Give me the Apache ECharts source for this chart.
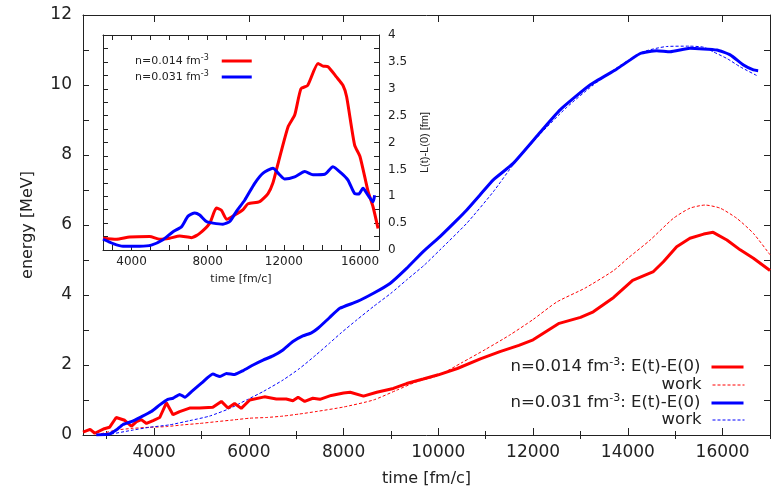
<!DOCTYPE html>
<html><head><meta charset="utf-8">
<script src="https://cdn.jsdelivr.net/npm/echarts@6/dist/echarts.min.js"></script>
<style>html,body{margin:0;padding:0;background:#fff}#c{width:775px;height:489px}</style>
</head><body><div id="c"></div>
<script>
// ---------- main panel: energy vs time ----------
const redEnergyTime = [2500,2650,2750,2950,3060,3200,3380,3520,3630,3730,3840,3980,4120,4260,4400,4540,4750,4960,5240,5420,5560,5700,5840,6020,6330,6580,6790,6930,7040,7180,7350,7500,7740,8000,8140,8420,8700,9050,9330,9680,10000,10400,10900,11300,11700,12000,12300,12550,13000,13270,13700,14100,14540,14750,15030,15310,15600,15800,16090,16370,16650,17000];
const redEnergy     = [0.08,0.16,0.05,0.18,0.22,0.50,0.42,0.25,0.38,0.44,0.33,0.41,0.50,0.92,0.58,0.67,0.77,0.77,0.79,0.96,0.77,0.90,0.76,1.00,1.09,1.03,1.03,0.98,1.08,0.96,1.05,1.02,1.13,1.20,1.22,1.11,1.22,1.33,1.47,1.60,1.72,1.90,2.18,2.38,2.56,2.72,2.98,3.19,3.36,3.52,3.93,4.42,4.67,4.95,5.38,5.62,5.74,5.79,5.57,5.29,5.05,4.70];

const redWorkTime = [2780,3200,3550,3900,4260,4610,4960,5310,5670,6020,6370,6720,7070,7420,8000,8630,9120,9540,10000,10500,11000,11500,12000,12500,13100,13700,14000,14470,14960,15310,15630,15950,16300,16650,17000];
const redWork     = [0.00,0.14,0.19,0.22,0.24,0.29,0.33,0.38,0.43,0.48,0.50,0.54,0.60,0.67,0.80,1.00,1.28,1.52,1.70,2.07,2.45,2.85,3.30,3.80,4.20,4.70,5.05,5.57,6.19,6.48,6.57,6.48,6.19,5.76,5.15];

const blueEnergyTime = [2780,3060,3200,3345,3520,3730,3940,4120,4290,4400,4540,4650,4790,5000,5240,5390,5530,5700,5880,6090,6300,6510,6720,6930,7140,7320,7460,7700,7920,8280,8630,8980,9330,9680,10035,10390,10600,10880,11160,11580,12150,12570,13200,13760,14260,14610,14890,15310,15880,16160,16440,16650,16750];
const blueEnergy     = [0.00,0.03,0.14,0.30,0.38,0.52,0.67,0.86,1.02,1.05,1.16,1.08,1.24,1.48,1.74,1.67,1.76,1.73,1.84,2.00,2.14,2.26,2.43,2.67,2.83,2.92,3.05,3.35,3.62,3.81,4.05,4.33,4.76,5.24,5.67,6.14,6.43,6.86,7.29,7.76,8.65,9.29,10.00,10.45,10.90,10.98,10.95,11.05,11.00,10.86,10.57,10.43,10.41];

const blueWorkTime = [2990,3550,3900,4330,4750,5170,5600,5950,6300,6720,7070,7420,7700,7950,8280,8630,9000,9330,9700,10035,10600,11160,11580,12150,12700,13270,13830,14330,14820,15300,15600,15800,16100,16370,16750];
const blueWork     = [0.00,0.14,0.22,0.29,0.41,0.54,0.76,1.00,1.24,1.57,1.90,2.29,2.62,2.92,3.29,3.67,4.05,4.43,4.85,5.29,6.05,6.95,7.72,8.60,9.35,10.00,10.55,10.95,11.10,11.11,11.08,10.95,10.75,10.52,10.25];

// ---------- inset: L(t)-L(0) vs time ----------
const insetRedTime = [2500,3200,3900,4950,5480,6000,6530,7140,7580,8110,8460,8720,9000,9420,9860,10120,10730,11170,11430,11690,12220,12570,12900,13250,13800,14060,14320,14760,15110,15300,15720,16000,16420,16690,16950];
const insetRed     = [0.22,0.20,0.24,0.25,0.20,0.22,0.26,0.23,0.31,0.50,0.78,0.74,0.57,0.65,0.75,0.86,0.90,1.05,1.25,1.60,2.29,2.51,3.00,3.06,3.47,3.42,3.41,3.22,3.06,2.85,1.95,1.74,1.10,0.80,0.40];

const insetBlueTime = [2500,3030,3550,4430,5040,5650,6180,6620,6970,7320,7580,7930,8280,8800,9160,9510,9950,10470,10910,11430,11780,12050,12570,13100,13530,14150,14580,15020,15370,15720,15930,16160,16420,16690,16770];
const insetBlue     = [0.20,0.12,0.07,0.07,0.09,0.19,0.34,0.43,0.63,0.69,0.65,0.53,0.50,0.48,0.53,0.72,0.93,1.24,1.43,1.52,1.40,1.32,1.36,1.46,1.40,1.41,1.55,1.43,1.30,1.05,1.04,1.15,1.02,0.90,1.02];

// ---------- ticks / labels ----------
const mainXLabels = [4000,6000,8000,10000,12000,14000,16000];
const mainXMinor  = [3000,5000,7000,9000,11000,13000,15000,17000];
const insetXLabels = [4000,8000,12000,16000];
const insetXTicks  = [3000,4000,5000,6000,7000,8000,9000,10000,11000,12000,13000,14000,15000,16000,17000];

const zip = (a, b) => a.map((t, i) => [t, b[i]]);

const FONT = 'DejaVu Sans';
const AX = '#222';
const TXT = '#222';
const RED = '#ff0000', BLUE = '#0000ff';

function xAxis(opts) {
  return Object.assign({
    type: 'value', min: 2500, max: 17000,
    splitLine: { show: false },
    axisLine: { show: true, onZero: false, lineStyle: { color: AX, width: 1 } },
    axisLabel: { show: false },
  }, opts);
}
function yAxis(opts) {
  return Object.assign({
    type: 'value',
    splitLine: { show: false },
    axisLine: { show: true, onZero: false, lineStyle: { color: AX, width: 1 } },
    axisLabel: { show: false },
  }, opts);
}

const names = {
  E014: 'n=0.014 fm{sup|-3}: E(t)-E(0)',
  W014: 'work',
  E031: 'n=0.031 fm{sup|-3}: E(t)-E(0)',
  W031: 'work',
  L014: 'n=0.014 fm{sup|-3}',
  L031: 'n=0.031 fm{sup|-3}'
};

function mainLegend(name, top, width) {
  return {
    data: [name], right: 30, top: top, padding: 0,
    align: 'right', itemWidth: 32, itemHeight: 14, selectedMode: false,
    itemStyle: { opacity: 0 },
    lineStyle: { width: width },
    formatter: n => names[n],
    textStyle: {
      fontFamily: FONT, fontSize: 16.5, color: TXT, lineHeight: 20, padding: [0, 6, 0, 0],
      rich: { sup: { fontFamily: FONT, fontSize: 11, color: TXT, verticalAlign: 'top', lineHeight: 11 } }
    }
  };
}

const chart = echarts.init(document.getElementById('c'), null, { renderer: 'canvas' });
chart.setOption({
  backgroundColor: '#fff',
  animation: false,
  grid: [
    { left: 83, top: 15, width: 687, height: 420, outerBoundsMode: 'none', containLabel: false },
    { left: 103, top: 35, width: 276, height: 215, outerBoundsMode: 'none', containLabel: false }
  ],
  xAxis: [
    xAxis({ gridIndex: 0, position: 'bottom',
      axisTick: { show: true, inside: true, length: 7, customValues: mainXLabels, lineStyle: { color: AX } },
      axisLabel: { show: true, customValues: mainXLabels, fontFamily: FONT, fontSize: 17, color: TXT, margin: 9,
        formatter: v => String(v) },
      name: 'time [fm/c]', nameLocation: 'middle', nameGap: 36,
      nameTextStyle: { fontFamily: FONT, fontSize: 16, color: TXT } }),
    xAxis({ gridIndex: 0, position: 'bottom', axisLine: { show: false },
      axisTick: { show: true, inside: true, length: 4, customValues: mainXMinor, lineStyle: { color: AX } } }),
    xAxis({ gridIndex: 0, position: 'top',
      axisTick: { show: true, inside: true, length: 7, customValues: mainXLabels, lineStyle: { color: AX } } }),
    xAxis({ gridIndex: 0, position: 'top', axisLine: { show: false },
      axisTick: { show: true, inside: true, length: 4, customValues: mainXMinor, lineStyle: { color: AX } } }),
    xAxis({ gridIndex: 1, position: 'bottom',
      axisTick: { show: true, inside: true, length: 5, customValues: insetXTicks, lineStyle: { color: AX } },
      axisLabel: { show: true, customValues: insetXLabels, fontFamily: FONT, fontSize: 12, color: TXT, margin: 6,
        formatter: v => String(v) },
      name: 'time [fm/c]', nameLocation: 'middle', nameGap: 24,
      nameTextStyle: { fontFamily: FONT, fontSize: 11, color: TXT } }),
    xAxis({ gridIndex: 1, position: 'top',
      axisTick: { show: true, inside: true, length: 5, customValues: insetXTicks, lineStyle: { color: AX } } })
  ],
  yAxis: [
    yAxis({ gridIndex: 0, position: 'left', min: 0, max: 12, interval: 1,
      axisTick: { show: true, inside: true, length: 6, lineStyle: { color: AX } },
      axisLabel: { show: true, fontFamily: FONT, fontSize: 17, color: TXT, margin: 11,
        formatter: v => (Math.round(v) % 2 === 0 ? String(v) : '') },
      name: 'energy [MeV]', nameLocation: 'middle', nameGap: 47, nameRotate: 90,
      nameTextStyle: { fontFamily: FONT, fontSize: 16, color: TXT } }),
    yAxis({ gridIndex: 0, position: 'right', min: 0, max: 12, interval: 1,
      axisTick: { show: true, inside: true, length: 6, lineStyle: { color: AX } } }),
    yAxis({ gridIndex: 1, position: 'left', min: 0, max: 4, interval: 0.25,
      axisTick: { show: true, inside: true, length: 5, lineStyle: { color: AX } } }),
    yAxis({ gridIndex: 1, position: 'right', min: 0, max: 4, interval: 0.25,
      axisTick: { show: true, inside: true, length: 5, lineStyle: { color: AX } },
      axisLabel: { show: true, fontFamily: FONT, fontSize: 12, color: TXT, margin: 9,
        formatter: v => (Math.abs(v * 2 - Math.round(v * 2)) < 1e-6 ? String(Math.round(v * 2) / 2) : '') },
      name: 'L(t)-L(0) [fm]', nameLocation: 'middle', nameGap: 40, nameRotate: 90,
      nameTextStyle: { fontFamily: 'Liberation Sans', fontSize: 11, color: TXT } })
  ],
  legend: [
    mainLegend('E014', 357, 3),
    mainLegend('W014', 375, 1),
    mainLegend('E031', 393, 3),
    mainLegend('W031', 410, 1),
    {
      data: ['L014', 'L031'], orient: 'vertical', left: 135, top: 54, padding: 0,
      align: 'right', itemWidth: 30, itemHeight: 14, itemGap: 2, selectedMode: false,
      itemStyle: { opacity: 0 },
      lineStyle: { width: 3 },
      formatter: n => names[n],
      textStyle: {
        fontFamily: FONT, fontSize: 11, color: TXT, lineHeight: 14, padding: [0, 8, 0, 0],
        rich: { sup: { fontFamily: FONT, fontSize: 8, color: TXT, verticalAlign: 'top', lineHeight: 8 } }
      }
    }
  ],
  series: [
    { name: 'W014', type: 'line', xAxisIndex: 0, yAxisIndex: 0, data: zip(redWorkTime, redWork),
      symbol: 'none', smooth: 0.2, lineStyle: { color: RED, width: 1, type: [3, 2] }, itemStyle: { color: RED } },
    { name: 'W031', type: 'line', xAxisIndex: 0, yAxisIndex: 0, data: zip(blueWorkTime, blueWork),
      symbol: 'none', smooth: 0.2, lineStyle: { color: BLUE, width: 1, type: [3, 2] }, itemStyle: { color: BLUE } },
    { name: 'E014', type: 'line', xAxisIndex: 0, yAxisIndex: 0, data: zip(redEnergyTime, redEnergy),
      symbol: 'none', lineStyle: { color: RED, width: 3 }, itemStyle: { color: RED } },
    { name: 'E031', type: 'line', xAxisIndex: 0, yAxisIndex: 0, data: zip(blueEnergyTime, blueEnergy),
      symbol: 'none', smooth: 0.15, lineStyle: { color: BLUE, width: 3 }, itemStyle: { color: BLUE } },
    { name: 'L014', type: 'line', xAxisIndex: 4, yAxisIndex: 2, data: zip(insetRedTime, insetRed),
      symbol: 'none', smooth: 0.2, lineStyle: { color: RED, width: 3 }, itemStyle: { color: RED } },
    { name: 'L031', type: 'line', xAxisIndex: 4, yAxisIndex: 2, data: zip(insetBlueTime, insetBlue),
      symbol: 'none', smooth: 0.2, lineStyle: { color: BLUE, width: 3 }, itemStyle: { color: BLUE } }
  ]
});
</script>
</body></html>
